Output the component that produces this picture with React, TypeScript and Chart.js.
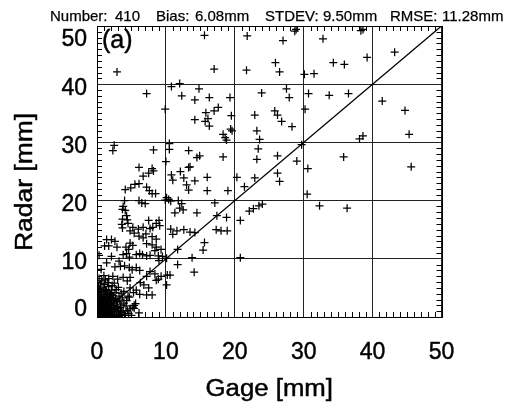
import React, { useEffect, useRef } from 'react';
import { Chart, registerables } from 'chart.js';

Chart.register(...registerables);

// Gage [mm], Radar [mm] pairs
const pointsUpper: [number, number][] = [
  [15.6, 48.4], [21.8, 48.3], [27.0, 47.5], [28.7, 49.1], [28.9, 49.4], [32.8, 47.8],
  [38.3, 49.2], [38.6, 49.4], [39.2, 44.6], [43.2, 45.5], [2.9, 42.1], [17.0, 42.6],
  [21.7, 42.4], [25.9, 43.7], [26.5, 42.1], [30.1, 41.7], [31.5, 41.8], [34.3, 43.7],
  [35.9, 43.4], [10.8, 39.6], [12.0, 40.1], [7.2, 38.4], [12.3, 38.0], [14.8, 39.2],
  [14.2, 37.3], [16.3, 37.7], [19.3, 37.7], [23.9, 38.5], [27.5, 39.2], [27.9, 37.7],
  [30.7, 38.4], [33.7, 38.1], [36.5, 38.4], [41.4, 37.1], [9.9, 35.7], [17.6, 36.0],
  [17.0, 35.4], [15.8, 35.1], [19.5, 34.6], [14.2, 33.9], [15.7, 33.6], [16.1, 34.1],
  [16.3, 32.8], [19.4, 32.3], [19.6, 32.0], [18.3, 31.4], [18.6, 30.8], [18.8, 30.4],
  [22.9, 34.7], [25.8, 35.4], [26.2, 34.7], [26.8, 33.6], [28.3, 32.7], [30.2, 35.7],
  [44.7, 35.5], [23.2, 32.0], [23.6, 30.5], [38.1, 30.6], [38.6, 31.1], [45.3, 31.4],
  [2.5, 29.5], [2.3, 28.6], [8.2, 28.7], [10.5, 29.8], [10.5, 28.8], [13.3, 28.6],
  [23.4, 28.9], [29.7, 29.6],
];

const pointsMid: [number, number][] = [
  [26.2, 27.7], [29.0, 26.8], [30.6, 25.5], [35.8, 27.5], [45.6, 25.8], [26.2, 24.7],
  [26.5, 23.3], [30.5, 21.1], [24.0, 19.4], [32.3, 19.1], [36.3, 18.7], [18.3, 27.5],
  [23.2, 27.1], [14.5, 27.4], [14.9, 27.7], [10.0, 26.7], [6.1, 25.7], [8.0, 25.5],
  [13.3, 25.7], [6.7, 24.2], [7.5, 24.7], [8.2, 25.1], [10.8, 24.4], [11.0, 23.5],
  [12.1, 25.0], [12.6, 23.9], [13.5, 25.8], [13.0, 22.7], [13.3, 21.8], [14.2, 23.4],
  [16.0, 24.0], [16.0, 21.7], [19.0, 21.7], [20.3, 24.0], [21.4, 22.4], [22.9, 23.9],
  [5.5, 22.8], [6.1, 22.9], [4.9, 22.2], [4.1, 21.9], [7.2, 22.3], [7.6, 21.7],
  [8.0, 21.2], [8.5, 21.2], [6.1, 20.0], [6.5, 19.6], [7.0, 19.5], [10.1, 20.5],
  [9.9, 20.1], [10.4, 20.2], [10.7, 19.9], [4.0, 20.0], [3.8, 19.0], [3.7, 18.5],
  [11.8, 20.0], [12.3, 19.5], [12.0, 18.7], [12.5, 18.4], [11.3, 17.9], [14.5, 17.9],
  [17.1, 19.6], [23.5, 19.1], [22.7, 18.6], [22.1, 18.2], [20.8, 16.6], [18.8, 17.1],
  [17.4, 17.4], [17.3, 15.0], [18.0, 14.8], [18.9, 14.8], [15.6, 12.8], [15.4, 11.5],
  [11.7, 11.6], [20.8, 10.2], [13.8, 10.2], [11.7, 9.0], [14.1, 7.7], [9.0, 16.6],
  [8.6, 16.1], [8.1, 15.4], [7.5, 16.6], [7.7, 15.2], [10.7, 15.1], [11.0, 14.2],
  [11.6, 14.8], [12.6, 15.0], [13.5, 14.6], [14.2, 14.5], [4.3, 17.4], [3.7, 16.8],
  [3.6, 15.9], [3.7, 15.3], [5.2, 15.4], [4.8, 14.8], [5.4, 14.4], [6.0, 15.1],
  [6.7, 15.4], [6.1, 13.9], [6.7, 13.6], [7.1, 14.3], [8.0, 13.8], [8.6, 13.4],
  [7.2, 12.6], [8.0, 12.4], [8.6, 12.0], [9.3, 11.6], [4.8, 12.7], [5.2, 12.3],
  [4.2, 12.0], [4.6, 11.6], [1.4, 13.3], [2.1, 13.3], [2.6, 13.0], [1.1, 12.2],
  [1.7, 12.2], [4.3, 10.9], [3.8, 10.7], [4.7, 10.3], [5.7, 10.7], [6.2, 10.9],
  [6.6, 10.7], [7.2, 10.5], [7.7, 10.6], [8.4, 11.4], [8.9, 10.5], [9.5, 10.4],
  [10.1, 10.1], [9.0, 9.7], [2.6, 8.6], [3.4, 8.7], [4.0, 8.8], [4.7, 8.5],
  [5.1, 8.1], [5.7, 8.5], [6.2, 8.0], [1.0, 7.1], [1.7, 6.6], [2.3, 7.0],
  [3.0, 6.5], [3.8, 6.8], [4.4, 6.2], [4.8, 6.8], [7.7, 7.8], [8.4, 7.4],
  [7.2, 7.0], [8.9, 6.5], [9.3, 7.0], [10.2, 7.2], [10.6, 7.2], [10.1, 5.5],
  [8.6, 6.3], [6.3, 5.9], [6.8, 5.5], [7.5, 5.0], [5.7, 4.6], [6.2, 3.9],
  [5.3, 4.2], [7.2, 3.8], [8.0, 3.8], [4.8, 5.0], [4.7, 3.4], [5.4, 2.0],
  [5.4, 1.5], [6.1, 0.7], [4.1, 18.3], [4.4, 16.7], [4.5, 16.1], [9.1, 15.7],
  [2.1, 10.4], [1.4, 9.3], [0.6, 8.2], [3.2, 9.6], [0.3, 10.6], [2.9, 12.0],
];

const pointsCluster: [number, number][] = [
  [0.1, 0.1], [0.2, 0.4], [0.3, 0.2], [0.1, 0.8], [0.4, 0.6], [0.5, 0.1], [0.6, 0.9], [0.2, 1.2], [0.8, 0.3], [0.9, 1.1],
  [1.0, 0.5], [0.3, 1.6], [0.7, 1.5], [1.2, 0.2], [1.1, 1.4], [0.4, 2.0], [0.9, 1.9], [1.3, 0.9], [1.5, 1.6], [0.2, 2.4],
  [0.6, 2.5], [1.0, 2.3], [1.4, 2.1], [1.7, 0.4], [1.8, 1.2], [2.0, 0.8], [0.1, 3.0], [0.5, 3.2], [0.8, 2.9], [1.2, 3.1],
  [1.6, 2.7], [1.9, 2.2], [2.1, 1.7], [2.3, 0.3], [2.4, 1.3], [0.3, 3.6], [0.7, 3.8], [1.1, 3.5], [1.5, 3.3], [1.8, 3.6],
  [2.2, 2.9], [2.5, 2.4], [2.6, 0.9], [2.8, 1.8], [0.2, 4.2], [0.6, 4.4], [1.0, 4.1], [1.4, 4.3], [1.9, 4.0], [2.3, 3.7],
  [2.7, 3.2], [3.0, 2.6], [3.1, 1.2], [3.3, 0.5], [0.4, 4.8], [0.9, 5.0], [1.3, 4.7], [1.7, 5.2], [2.1, 4.6], [2.6, 4.2],
  [3.2, 3.6], [3.5, 2.1], [3.6, 0.8], [0.0, 0.5], [0.0, 1.5], [0.0, 2.7], [0.1, 3.9], [0.2, 5.3], [0.5, 5.7], [1.1, 5.6],
  [0.15, 0.3], [0.35, 0.7], [0.45, 1.3], [0.55, 0.4], [0.65, 1.8], [0.75, 0.6], [0.85, 2.2], [0.95, 0.2], [1.05, 1.7], [1.15, 2.7],
  [1.25, 1.2], [1.35, 0.6], [1.45, 2.6], [1.55, 0.1], [1.65, 1.9], [1.75, 2.9], [1.85, 0.7], [1.95, 1.5], [2.05, 3.3], [2.15, 0.5],
  [0.25, 0.9], [0.55, 1.0], [0.8, 1.3], [1.1, 0.9], [1.3, 1.9], [1.6, 1.1], [2.0, 2.5], [2.4, 2.0], [2.8, 0.4], [3.0, 1.5],
  [0.3, 0.0], [0.7, 0.1], [1.0, 0.0], [1.4, 0.3], [1.9, 0.1], [2.5, 0.1], [2.9, 0.2], [3.4, 1.6], [3.8, 1.0], [4.0, 0.3],
  [0.05, 2.1], [0.15, 4.6], [0.4, 2.9], [0.6, 3.5], [0.9, 3.3], [1.2, 4.5], [1.6, 3.9], [2.0, 3.8], [2.4, 3.2], [2.9, 2.7],
  [3.3, 2.9], [3.7, 3.3], [3.9, 2.4], [4.2, 1.9], [4.4, 1.1], [4.6, 0.6], [4.3, 2.8], [3.5, 4.1], [2.8, 4.7], [2.2, 5.4],
  [1.5, 5.9], [0.7, 6.2], [0.3, 6.6], [1.2, 6.4], [2.5, 5.8], [3.1, 5.1], [3.9, 4.4], [4.5, 3.6], [5.2, 1.7], [5.6, 2.3],
  [4.8, 1.4], [5.0, 0.3], [3.2, 0.1], [2.2, 1.0], [1.7, 1.4], [1.2, 2.4], [0.5, 2.2], [0.2, 1.9], [0.9, 0.7], [1.5, 0.8],
  [2.6, 1.5], [3.4, 0.4], [0.1, 0.05], [0.25, 0.15], [0.5, 0.25], [0.05, 0.6], [0.3, 1.1], [0.7, 0.35], [1.1, 0.25], [0.45, 0.45],
  [0.35, 0.35], [0.6, 0.6], [0.15, 1.4], [0.85, 0.85],
];

const oneToOne: [number, number][] = [[0, 0], [50, 50]];
const axisTicks = [0, 10, 20, 30, 40, 50];
const titleParts: [string, number][] = [
  ['Number:', 50], ['410', 115], ['Bias:', 156], ['6.08mm', 195],
  ['STDEV:', 265], ['9.50mm', 323], ['RMSE:', 390], ['11.28mm', 442],
];
const panelLabel = '(a)';
const xTitle = 'Gage [mm]';
const yTitle = 'Radar [mm]';

const FONT = '"Liberation Sans", Arial, Helvetica, sans-serif';

const drawText = (ctx: CanvasRenderingContext2D, t: string, x: number, y: number, stroke: number) => {
  ctx.fillText(t, x, y);
  if (stroke > 0) {
    ctx.lineWidth = stroke;
    ctx.strokeText(t, x, y);
  }
};

const decorPlugin = {
  id: 'decor',
  afterDraw(chart: any) {
    const ctx = chart.ctx as CanvasRenderingContext2D;
    const { left, right, top, bottom } = chart.chartArea;
    const xs = chart.scales.x;
    const ys = chart.scales.y;
    ctx.save();
    ctx.strokeStyle = '#000';
    ctx.lineWidth = 1;
    ctx.strokeRect(Math.round(left) + 0.5, Math.round(top) + 0.5, Math.round(right - left), Math.round(bottom - top));
    ctx.beginPath();
    for (let v = 1; v < 50; v++) {
      if (v % 10 === 0) continue;
      const px = Math.round(xs.getPixelForValue(v)) + 0.5;
      ctx.moveTo(px, bottom); ctx.lineTo(px, bottom - 5);
      ctx.moveTo(px, top); ctx.lineTo(px, top + 5);
      const py = Math.round(ys.getPixelForValue(v)) + 0.5;
      ctx.moveTo(left, py); ctx.lineTo(left + 5, py);
      ctx.moveTo(right, py); ctx.lineTo(right - 5, py);
    }
    ctx.stroke();

    ctx.fillStyle = '#000';
    ctx.strokeStyle = '#000';
    // title
    ctx.font = `15px ${FONT}`;
    ctx.textAlign = 'left';
    ctx.textBaseline = 'alphabetic';
    titleParts.forEach(([t, x]) => drawText(ctx, t, x, 20.5, 0.25));

    // panel label
    ctx.font = `25px ${FONT}`;
    drawText(ctx, panelLabel, 102, 48, 0.45);

    // tick labels
    ctx.font = `23px ${FONT}`;
    ctx.textAlign = 'center';
    ctx.textBaseline = 'middle';
    axisTicks.forEach((v) => {
      drawText(ctx, String(v), xs.getPixelForValue(v), 353, 0.45);
    });
    ctx.textAlign = 'right';
    axisTicks.forEach((v) => {
      let y = ys.getPixelForValue(v) + 4;
      if (v === 50) y = ys.getPixelForValue(v) + 14;
      if (v === 0) y = ys.getPixelForValue(v) - 7;
      drawText(ctx, String(v), 87, y, 0.45);
    });

    // axis titles (slightly wider face, like the original)
    ctx.textAlign = 'center';
    ctx.save();
    ctx.translate((left + right) / 2, 390);
    ctx.scale(1.12, 1);
    drawText(ctx, xTitle, 0, 0, 0.45);
    ctx.restore();
    ctx.save();
    ctx.translate(26, 182);
    ctx.rotate(-Math.PI / 2);
    ctx.scale(1.15, 1);
    drawText(ctx, yTitle, 0, 0, 0.45);
    ctx.restore();
    ctx.restore();
  },
};

export default function App() {
  const ref = useRef<HTMLCanvasElement>(null);
  useEffect(() => {
    if (!ref.current) return;
    const toXY = (arr: [number, number][]) => arr.map(([x, y]) => ({ x, y }));
    const chart = new Chart(ref.current, {
      type: 'scatter',
      data: {
        datasets: [
          {
            data: toXY(oneToOne),
            showLine: true,
            borderColor: '#000',
            borderWidth: 1.3,
            pointRadius: 0,
          } as any,
          {
            data: toXY([...pointsUpper, ...pointsMid, ...pointsCluster]),
            pointStyle: 'cross',
            pointRadius: 4,
            borderColor: '#000',
            backgroundColor: '#000',
            borderWidth: 1.25,
          } as any,
        ],
      },
      options: {
        animation: false,
        responsive: true,
        maintainAspectRatio: false,
        layout: { padding: { left: 97, right: 64.5, top: 26, bottom: 88 } },
        plugins: { legend: { display: false }, tooltip: { enabled: false }, title: { display: false } },
        scales: {
          x: {
            type: 'linear', min: 0, max: 50,
            ticks: { display: false, stepSize: 10 },
            grid: { color: '#222', lineWidth: 1, drawTicks: false },
            border: { display: false },
            afterFit: (s: any) => { s.height = 0; },
          },
          y: {
            type: 'linear', min: 0, max: 50,
            ticks: { display: false, stepSize: 10 },
            grid: { color: '#222', lineWidth: 1, drawTicks: false },
            border: { display: false },
            afterFit: (s: any) => { s.width = 0; },
          },
        },
      },
      plugins: [decorPlugin],
    });
    return () => chart.destroy();
  }, []);
  return (
    <div style={{ position: 'fixed', left: 0, top: 0, width: 506, height: 405, background: '#fff' }}>
      <canvas ref={ref} />
    </div>
  );
}
